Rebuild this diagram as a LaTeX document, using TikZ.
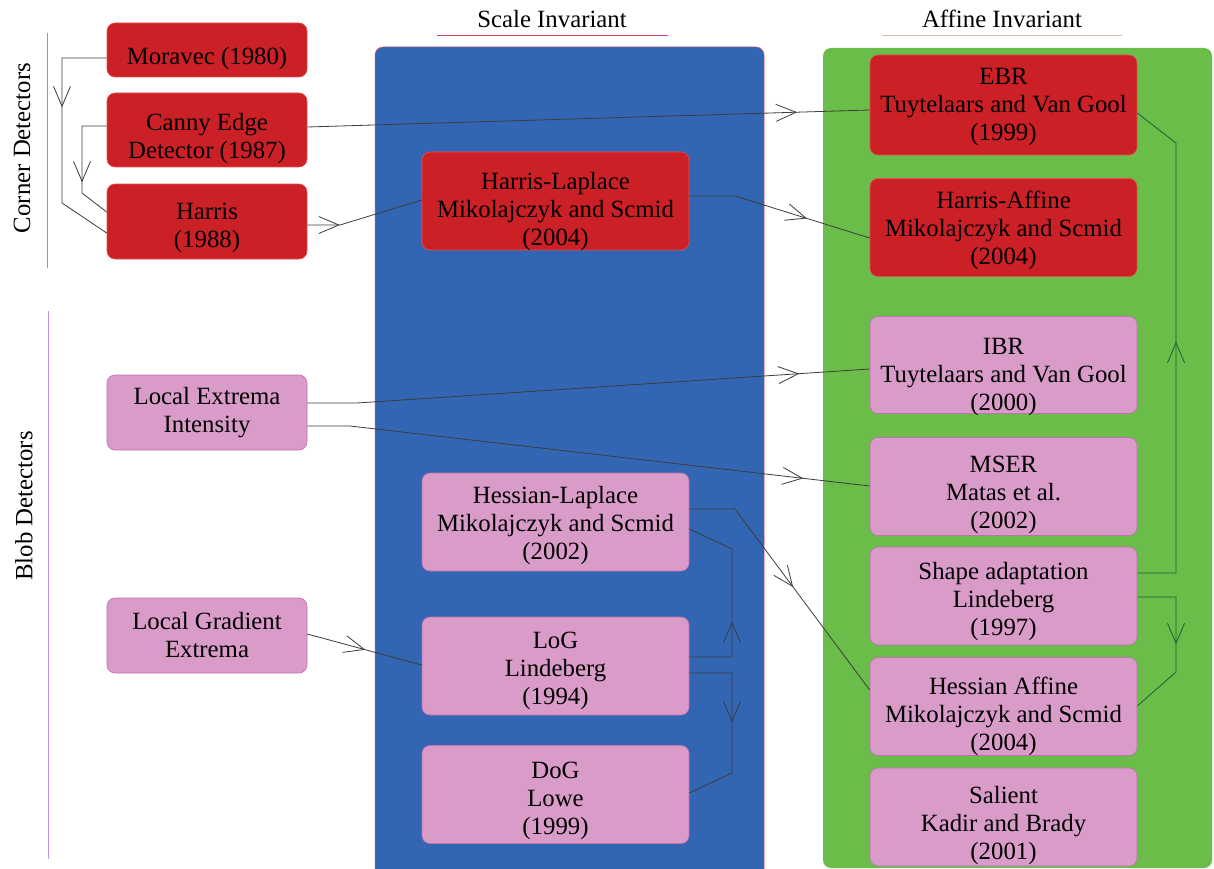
\documentclass[tikz,border=0pt]{standalone}
\usepackage{fontspec}
\setmainfont{Liberation Serif}
\newfontfamily\timesfam{Liberation Serif}
\usetikzlibrary{arrows.meta,decorations.markings}
\definecolor{boxred}{RGB}{204,32,39}
\definecolor{boxredline}{RGB}{225,80,80}
\definecolor{boxpink}{RGB}{217,155,200}
\definecolor{boxpinkline}{RGB}{195,110,180}
\definecolor{panelblue}{RGB}{51,102,178}
\definecolor{panelgreen}{RGB}{106,189,72}
\definecolor{connline}{RGB}{60,60,60}
\definecolor{conngreen}{RGB}{25,95,60}
\definecolor{cornerline}{RGB}{222,125,105}
\definecolor{blobline}{RGB}{190,150,230}
\definecolor{scaleline}{RGB}{205,70,95}
\definecolor{affineline}{RGB}{215,190,150}
\newcommand\boxlabel[3]{\node[lbl] (#1-t) at ([yshift=-#2pt]#1.center) {#3};}
\begin{document}
\begin{tikzpicture}[x=1pt,y=-1pt,
  txt/.style={font=\timesfam\fontsize{24.8}{28}\selectfont},
  lbl/.style={txt, align=center, inner sep=0pt},
  basebox/.style={rounded corners=8pt, inner sep=0pt, line width=0.6pt},
  redbox/.style={basebox, fill=boxred, draw=boxredline},
  pinkbox/.style={basebox, fill=boxpink, draw=boxpinkline},
  narrow/.style={minimum width=200pt, minimum height=75pt},
  wide/.style={minimum width=267pt, minimum height=98pt},
  conn/.style={draw=connline, line width=0.8pt},
  conng/.style={draw=conngreen, line width=0.8pt},
  arrowat/.style={postaction={decorate}, decoration={markings,
      mark=at position #1 with {\arrow{Straight Barb[length=20pt,width=17pt]}}}},
  sidelabel/.style={txt, rotate=90},
  header/.style={txt}
]
\useasboundingbox (0,0) rectangle (1214,869);
\fill[white] (0,0) rectangle (1214,869);

% panels
\path[fill=panelblue, draw=boxredline, line width=0.5pt, rounded corners=8pt] (375,47) rectangle (764,885);
\path[fill=panelgreen, rounded corners=8pt] (823,48) rectangle (1212,868);

% headers
\node[header] (scalehead) at (552,19) {Scale Invariant};
\draw[scaleline, line width=0.8pt] (437,35) -- (668,35);
\node[header] (affinehead) at (1002,19) {Affine Invariant};
\draw[affineline, line width=0.8pt] (882,35) -- (1122,35);

% side labels
\draw[cornerline, line width=0.8pt] (47,33) -- (47,268);
\node[sidelabel] (cornerlab) at (22,148) {Corner Detectors};
\draw[blobline, line width=0.8pt] (48,311) -- (48,859);
\node[sidelabel] (bloblab) at (24,506) {Blob Detectors};

% left column
\node[redbox, narrow, minimum height=54pt] (moravec) at (207,50) {};
\boxlabel{moravec}{9}{Moravec (1980)}
\node[redbox, narrow, minimum height=74pt] (canny) at (207,130) {};
\boxlabel{canny}{9}{Canny Edge\\Detector (1987)}
\node[redbox, narrow] (harris) at (207,221.5) {};
\boxlabel{harris}{6}{Harris\\(1988)}
\node[pinkbox, narrow] (lext) at (207,412.5) {};
\boxlabel{lext}{0}{Local Extrema\\Intensity}
\node[pinkbox, narrow] (lgrad) at (207,635.5) {};
\boxlabel{lgrad}{0}{Local Gradient\\Extrema}

% scale invariant column
\node[redbox, wide] (hlap) at (555.5,201) {};
\boxlabel{hlap}{11}{Harris-Laplace\\Mikolajczyk and Scmid\\(2004)}
\node[pinkbox, wide] (hesslap) at (555.5,522) {};
\boxlabel{hesslap}{4}{Hessian-Laplace\\Mikolajczyk and Scmid\\(2002)}
\node[pinkbox, wide] (log) at (555.5,666) {};
\boxlabel{log}{5}{LoG\\Lindeberg\\(1994)}
\node[pinkbox, wide] (dog) at (555.5,794.5) {};
\boxlabel{dog}{6}{DoG\\Lowe\\(1999)}

% affine invariant column
\node[redbox, wide, minimum height=100pt] (ebr) at (1003.5,105) {};
\boxlabel{ebr}{2}{EBR\\Tuytelaars and Van Gool\\(1999)}
\node[redbox, wide] (haff) at (1003.5,227.5) {};
\boxlabel{haff}{3}{Harris-Affine\\Mikolajczyk and Scmid\\(2004)}
\node[pinkbox, wide, minimum height=97pt] (ibr) at (1003.5,365) {};
\boxlabel{ibr}{12}{IBR\\Tuytelaars and Van Gool\\(2000)}
\node[pinkbox, wide] (mser) at (1003.5,486.5) {};
\boxlabel{mser}{8}{MSER\\Matas et al.\\(2002)}
\node[pinkbox, wide] (shape) at (1003.5,596) {};
\boxlabel{shape}{6}{Shape adaptation\\Lindeberg\\(1997)}
\node[pinkbox, wide] (hessaff) at (1003.5,706.5) {};
\boxlabel{hessaff}{10}{Hessian Affine\\Mikolajczyk and Scmid\\(2004)}
\node[pinkbox, wide] (salient) at (1003.5,817) {};
\boxlabel{salient}{9}{Salient\\Kadir and Brady\\(2001)}

% bend points
\coordinate (m1) at (62,58);   \coordinate (m2) at (62,203);
\coordinate (c1) at (82,126);  \coordinate (c2) at (82,193);
\coordinate (h1) at (340,225);
\coordinate (hl1) at (735,196);
\coordinate (s1) at (1176,573); \coordinate (s2) at (1176,143);
\coordinate (s3) at (1176,597); \coordinate (s4) at (1176,672);
\coordinate (e1) at (357,403);
\coordinate (e2) at (350,426);
\coordinate (hs1) at (735,509);
\coordinate (g1) at (732,657); \coordinate (g2) at (732,549);
\coordinate (g3) at (732,673); \coordinate (g4) at (732,773);

% connectors
\draw[conn, arrowat=94pt] (moravec.west |- m1) -- (m1) -- (m2) -- (harris.west |- 0,233);
\draw[conn, arrowat=81pt] (canny.west |- c1) -- (c1) -- (c2) -- (harris.west |- 0,212);
\draw[conn, arrowat=32.5pt] (harris.east |- h1) -- (h1) -- (hlap.west |- 0,200);
\draw[conn, arrowat=490pt] (canny.east |- 0,127) -- (ebr.west |- 0,110);
\draw[conn, arrowat=121pt] (hlap.east |- hl1) -- (hl1) -- (haff.west |- 0,238);
\draw[conng, arrowat=270pt] (shape.east |- s1) -- (s1) -- (s2) -- (ebr.east |- 0,113);
\draw[conng, arrowat=86pt] (shape.east |- s3) -- (s3) -- (s4) -- (hessaff.east |- 0,706);
\draw[conn, arrowat=493pt] (lext.east |- e1) -- (e1) -- (ibr.west |- 0,369);
\draw[conn, arrowat=499pt] (lext.east |- e2) -- (e2) -- (mser.west |- 0,486);
\draw[conn, arrowat=60pt] (lgrad.east |- 0,634) -- (log.west |- 0,665);
\draw[conn, arrowat=143pt] (hesslap.east |- hs1) -- (hs1) -- (hessaff.west |- 0,690);
\draw[conn, arrowat=78pt] (log.east |- g1) -- (g1) -- (g2) -- (hesslap.east |- 0,529);
\draw[conn, arrowat=92pt] (log.east |- g3) -- (g3) -- (g4) -- (dog.east |- 0,793);
\end{tikzpicture}
\end{document}
